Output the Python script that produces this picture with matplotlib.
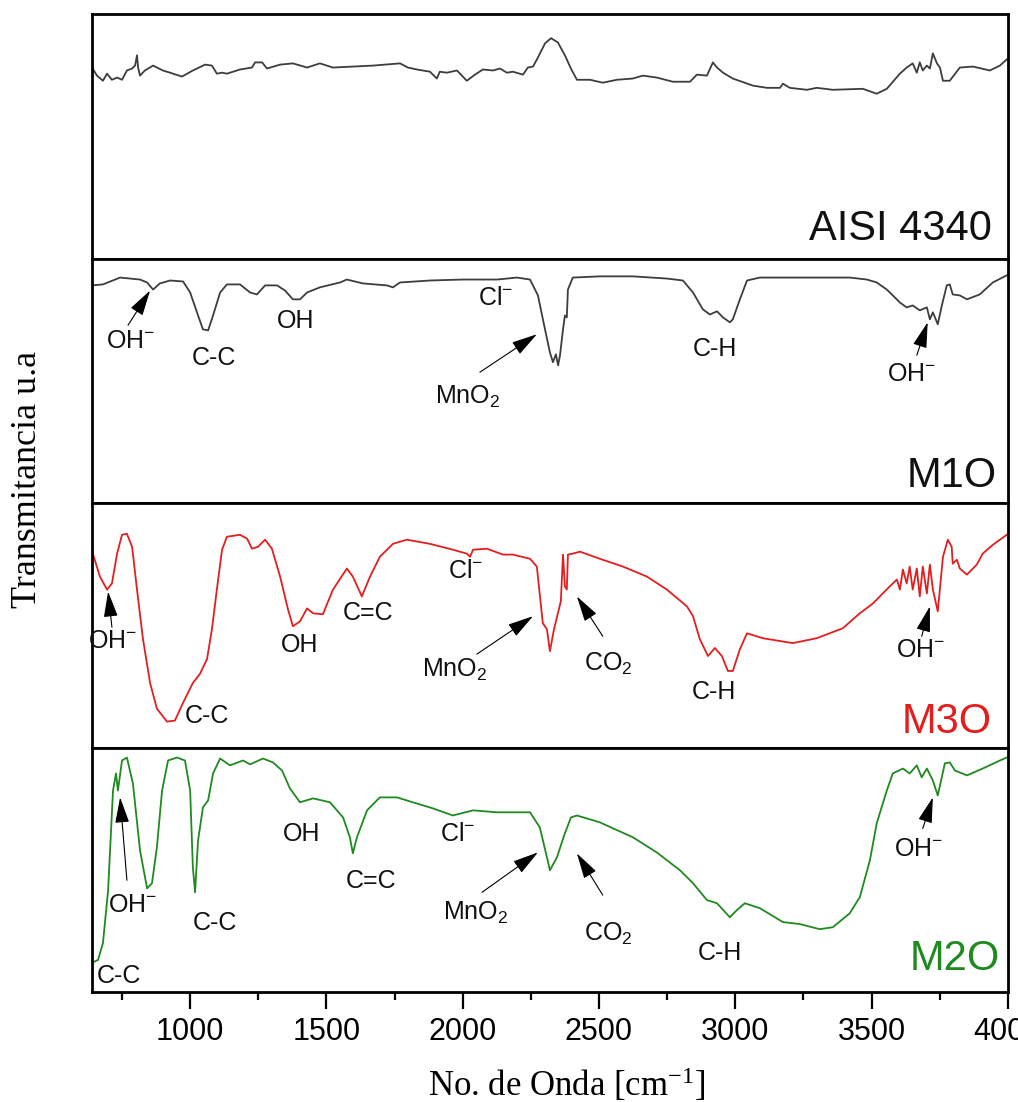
import matplotlib
matplotlib.use("Agg")
import matplotlib.pyplot as plt
from matplotlib.ticker import MultipleLocator

plt.rcParams['font.family'] = ['Liberation Sans', 'DejaVu Sans']

# espectros FTIR (no. de onda [cm-1], transmitancia u.a.)
wn_aisi = [640, 658, 680, 695, 713, 732, 750, 768, 787, 798, 805, 809, 816, 834, 864, 900, 926, 970, 1010, 1055,
           1080, 1098, 1117, 1135, 1183, 1227, 1238, 1264, 1282, 1330, 1377, 1429, 1476, 1524, 1597, 1671, 1770,
           1799, 1832, 1880, 1905, 1916, 1942, 1979, 2015, 2045, 2074, 2111, 2137, 2162, 2184, 2221, 2239, 2258,
           2276, 2302, 2324, 2349, 2375, 2397, 2419, 2467, 2514, 2566, 2624, 2661, 2712, 2771, 2834, 2859, 2896,
           2918, 2933, 2955, 2991, 3065, 3116, 3164, 3175, 3200, 3263, 3299, 3358, 3468, 3519, 3556, 3604, 3629,
           3651, 3666, 3677, 3688, 3703, 3714, 3725, 3740, 3751, 3762, 3787, 3824, 3872, 3934, 3971, 3996]
t_aisi = [78.1, 74.8, 72.7, 75.6, 73.1, 74.0, 73.1, 76.9, 77.7, 78.9, 83.1, 78.1, 74.8, 76.9, 78.9, 76.9, 76.0,
          74.4, 76.9, 79.3, 78.9, 75.6, 76.0, 75.6, 77.3, 78.1, 80.2, 80.2, 77.7, 79.3, 79.8, 78.1, 79.8, 78.1,
          78.5, 78.9, 79.8, 78.1, 77.3, 76.4, 73.6, 76.4, 76.0, 76.9, 72.7, 75.2, 77.3, 76.9, 77.7, 76.0, 76.4,
          75.2, 78.1, 78.5, 82.2, 88.0, 90.1, 88.4, 83.1, 77.7, 73.1, 73.1, 71.9, 73.1, 73.6, 74.8, 74.0, 72.3,
          72.3, 75.2, 74.8, 80.2, 78.1, 76.0, 73.6, 70.7, 69.8, 69.8, 71.5, 69.8, 69.0, 69.8, 69.0, 69.4, 67.4,
          69.4, 75.6, 78.1, 79.8, 76.0, 80.2, 76.9, 78.9, 77.7, 83.9, 79.8, 78.1, 72.7, 72.7, 78.1, 78.5, 76.9,
          78.9, 81.4]

wn_m1o = [640, 680, 743, 816, 842, 864, 889, 926, 974, 1000, 1025, 1047, 1066, 1084, 1110, 1135, 1183, 1220, 1245,
          1275, 1319, 1348, 1377, 1403, 1429, 1476, 1550, 1575, 1634, 1722, 1744, 1770, 1880, 2001, 2126, 2199,
          2247, 2276, 2302, 2320, 2331, 2342, 2350, 2357, 2368, 2375, 2382, 2386, 2404, 2503, 2624, 2749, 2808,
          2845, 2881, 2907, 2933, 2955, 2980, 2991, 3017, 3043, 3090, 3237, 3420, 3483, 3519, 3556, 3578, 3604,
          3629, 3651, 3677, 3703, 3714, 3725, 3743, 3758, 3776, 3787, 3798, 3824, 3850, 3897, 3945, 3996]
t_m1o = [89.0, 89.4, 92.2, 91.4, 90.2, 87.3, 89.8, 91.0, 90.6, 86.1, 78.0, 71.0, 70.6, 76.7, 86.1, 89.4, 89.4,
         86.1, 85.3, 89.0, 89.0, 86.9, 83.3, 83.3, 86.1, 88.2, 90.2, 91.4, 89.8, 89.0, 88.2, 90.2, 91.0, 91.4,
         91.4, 92.2, 91.4, 84.9, 71.0, 61.6, 57.6, 60.8, 56.3, 60.4, 71.0, 76.7, 75.9, 87.3, 92.2, 92.7, 92.7,
         91.8, 91.0, 86.1, 79.2, 77.1, 78.4, 75.9, 73.9, 75.1, 83.3, 91.0, 92.2, 92.2, 92.2, 91.4, 90.2, 87.3,
         84.9, 82.0, 80.0, 80.8, 78.8, 80.0, 75.1, 78.0, 73.1, 80.8, 89.0, 89.4, 85.3, 84.9, 83.3, 85.3, 90.2,
         93.1]

wn_m3o = [644, 669, 695, 713, 732, 750, 768, 787, 805, 827, 853, 878, 915, 944, 974, 1010, 1036, 1062, 1080, 1098,
          1117, 1135, 1183, 1209, 1227, 1249, 1275, 1300, 1330, 1359, 1377, 1403, 1429, 1451, 1487, 1524, 1575,
          1597, 1630, 1660, 1696, 1744, 1795, 1880, 1964, 2015, 2027, 2038, 2089, 2148, 2184, 2247, 2272, 2294,
          2309, 2320, 2335, 2360, 2368, 2375, 2382, 2386, 2404, 2430, 2503, 2588, 2676, 2749, 2823, 2845, 2870,
          2900, 2925, 2951, 2973, 2991, 3017, 3043, 3101, 3211, 3299, 3395, 3457, 3505, 3541, 3567, 3593, 3604,
          3615, 3629, 3640, 3651, 3666, 3677, 3688, 3703, 3714, 3725, 3743, 3762, 3780, 3794, 3798, 3813, 3824,
          3850, 3886, 3908, 3945, 3996]
t_m3o = [78.9, 69.9, 64.6, 67.1, 79.3, 87.0, 87.4, 82.1, 64.6, 44.3, 26.4, 15.9, 10.6, 11.0, 18.3, 26.4, 30.1,
         36.2, 48.4, 64.6, 80.9, 86.2, 87.0, 85.4, 81.3, 82.1, 85.0, 81.3, 69.9, 56.5, 49.6, 51.6, 56.9, 54.9,
         54.5, 64.6, 73.2, 69.9, 61.8, 69.9, 78.0, 83.3, 85.0, 83.3, 80.9, 79.3, 78.0, 80.9, 81.3, 78.9, 78.9,
         77.2, 74.0, 50.8, 48.4, 39.4, 48.4, 59.8, 78.9, 65.9, 64.6, 78.9, 79.3, 80.1, 77.2, 74.0, 69.9, 64.6,
         57.7, 53.7, 44.3, 37.4, 40.7, 37.4, 31.3, 31.3, 40.2, 46.7, 44.7, 42.7, 44.7, 48.8, 54.9, 58.9, 63.0,
         65.9, 68.7, 64.6, 72.8, 67.1, 74.0, 64.6, 73.2, 61.8, 74.0, 63.0, 74.8, 64.6, 55.7, 78.0, 85.0, 82.1,
         75.2, 76.8, 73.2, 70.7, 74.8, 79.3, 82.9, 87.0]

wn_m2o = [644, 662, 680, 699, 717, 728, 735, 750, 768, 790, 816, 842, 860, 878, 897, 919, 952, 981, 1000, 1010,
          1018, 1029, 1047, 1066, 1084, 1110, 1146, 1194, 1220, 1267, 1304, 1337, 1366, 1403, 1451, 1513, 1561,
          1586, 1597, 1612, 1649, 1696, 1759, 1817, 1891, 1964, 2038, 2126, 2247, 2283, 2309, 2320, 2346, 2371,
          2397, 2419, 2503, 2624, 2712, 2797, 2845, 2896, 2933, 2980, 3006, 3035, 3090, 3175, 3237, 3310, 3358,
          3420, 3457, 3494, 3519, 3556, 3578, 3615, 3640, 3666, 3684, 3703, 3725, 3743, 3769, 3787, 3806, 3824,
          3850, 3908, 3971, 3996]
t_m2o = [12.2, 13.1, 20.0, 41.6, 82.4, 89.4, 82.4, 94.7, 95.9, 85.3, 58.0, 42.4, 44.5, 59.2, 82.4, 94.7, 95.9,
         94.7, 82.4, 51.0, 40.8, 62.0, 75.5, 78.4, 89.4, 95.5, 92.7, 94.7, 93.1, 95.5, 93.9, 90.6, 83.3, 77.6,
         79.2, 77.6, 71.4, 63.3, 56.7, 63.3, 74.3, 79.6, 79.6, 77.6, 75.1, 72.2, 74.3, 73.5, 73.5, 67.3, 55.1,
         49.8, 55.1, 63.7, 71.4, 72.2, 69.4, 63.3, 57.1, 49.8, 44.5, 37.6, 36.3, 30.6, 33.5, 36.3, 34.3, 28.6,
         27.8, 25.7, 26.5, 32.2, 38.8, 53.9, 69.0, 82.4, 89.4, 91.4, 89.4, 92.7, 87.8, 91.4, 86.5, 80.4, 93.5,
         93.9, 90.6, 89.8, 88.6, 91.4, 94.7, 95.9]

nombres = ['AISI 4340', 'M1O', 'M3O', 'M2O']
colores = ['#3d3d3d', '#3d3d3d', '#e31e1e', '#1f8a1f']
colores_nombre = ['#111111', '#111111', '#e31e1e', '#1f8a1f']

# etiquetas de bandas (texto, no. de onda, transmitancia)
etiq_m1o = [('OH$\\mathregular{^{-}}$', 783, 66.1), ('C-C', 1089, 59.4), ('OH', 1388, 74.5),
            ('Cl$\\mathregular{^{-}}$', 2122, 83.9), ('MnO$\\mathregular{_{2}}$', 2019, 43.3),
            ('C-H', 2925, 63.1), ('OH$\\mathregular{^{-}}$', 3646, 52.9)]
flechas_m1o = [(772, 72.7, 853, 86.9), (2063, 53.5, 2272, 69.0), (3666, 60.4, 3706, 73.9)]

etiq_m3o = [('OH$\\mathregular{^{-}}$', 717, 43.5), ('C-C', 1060, 13.0), ('OH', 1403, 41.9),
            ('C=C', 1654, 55.1), ('Cl$\\mathregular{^{-}}$', 2010, 72.0),
            ('MnO$\\mathregular{_{2}}$', 1971, 31.7), ('CO$\\mathregular{_{2}}$', 2533, 34.3),
            ('C-H', 2920, 22.8), ('OH$\\mathregular{^{-}}$', 3681, 39.8)]
flechas_m3o = [(713, 49.2, 699, 63.8), (2052, 38.2, 2258, 53.7), (2514, 45.5, 2419, 61.8),
               (3684, 45.5, 3714, 57.7)]

etiq_m2o = [('C-C', 737, 6.5), ('OH$\\mathregular{^{-}}$', 790, 35.5), ('C-C', 1091, 28.4), ('OH', 1410, 64.5),
            ('C=C', 1665, 45.3), ('Cl$\\mathregular{^{-}}$', 1982, 64.5),
            ('MnO$\\mathregular{_{2}}$', 2049, 32.4), ('CO$\\mathregular{_{2}}$', 2533, 23.9),
            ('C-H', 2943, 16.1), ('OH$\\mathregular{^{-}}$', 3673, 58.6)]
flechas_m2o = [(768, 45.7, 743, 79.6), (2071, 40.8, 2276, 57.1), (2514, 39.6, 2419, 56.7),
               (3688, 66.9, 3725, 79.6)]

datos = [(wn_aisi, t_aisi), (wn_m1o, t_m1o), (wn_m3o, t_m3o), (wn_m2o, t_m2o)]
etiquetas = [[], etiq_m1o, etiq_m3o, etiq_m2o]
flechas = [[], flechas_m1o, flechas_m3o, flechas_m2o]
pos_nombre = [(0.9825, 0.074), (0.988, 0.065), (0.9825, 0.061), (0.991, 0.09)]

fig = plt.figure(figsize=(10.18, 11.02), dpi=100)
gs = fig.add_gridspec(4, 1, left=0.0904, right=0.990, bottom=0.0998, top=0.9873, hspace=0)
axs = [fig.add_subplot(gs[i]) for i in range(4)]

for i, ax in enumerate(axs):
    x, y = datos[i]
    ax.plot(x, y, color=colores[i], lw=1.3)
    ax.set_xlim(640, 4000)
    ax.set_ylim(0, 100)
    ax.set_yticks([])
    for s in ax.spines.values():
        s.set_linewidth(2.0)
    for txt, xx, yy in etiquetas[i]:
        ax.text(xx, yy, txt, fontsize=18, ha='center', va='center', color='#111111')
    for x0, y0, x1, y1 in flechas[i]:
        ax.annotate('', xy=(x1, y1), xytext=(x0, y0),
                    arrowprops=dict(arrowstyle='-|>,head_length=0.8,head_width=0.22', color='black',
                                    lw=0.8, mutation_scale=20, shrinkA=0, shrinkB=0))
    px, py = pos_nombre[i]
    ax.text(px, py, nombres[i], transform=ax.transAxes, ha='right', va='baseline',
            fontsize=30, color=colores_nombre[i])
    if i < 3:
        ax.tick_params(axis='x', which='both', bottom=False, labelbottom=False)

ax = axs[3]
ax.xaxis.set_major_locator(MultipleLocator(500))
ax.xaxis.set_minor_locator(MultipleLocator(250))
ax.tick_params(axis='x', which='major', direction='out', length=12, width=1.6, labelsize=22, pad=6)
ax.tick_params(axis='x', which='minor', direction='out', length=6, width=1.6)

fig.text(0.557, 0.0055, 'No. de Onda [cm$\\mathregular{^{-1}}$]', family='Liberation Serif', fontsize=25,
         ha='center', va='baseline')
fig.text(0.027, 0.565, 'Transmitancia u.a', family='Liberation Serif', fontsize=26, rotation=90,
         ha='center', va='center')

fig.savefig('out.png', dpi=100)
